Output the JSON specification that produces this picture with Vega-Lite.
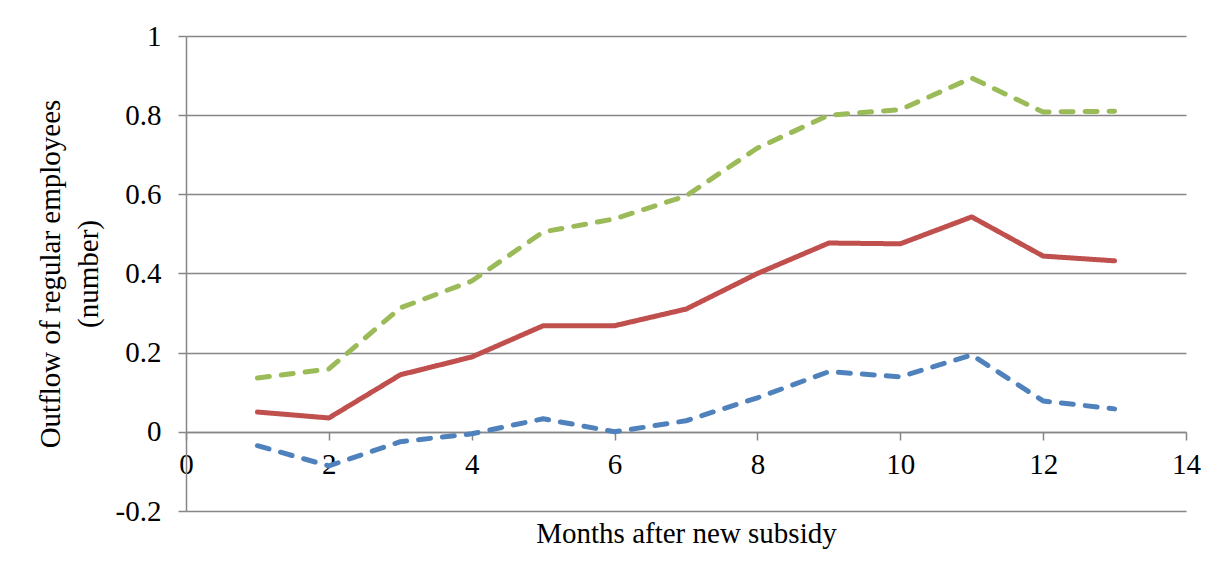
{
  "$schema": "https://vega.github.io/schema/vega-lite/v6.json",
  "width": 1000,
  "height": 475,
  "autosize": {"type": "none"},
  "padding": {"left": 186, "top": 36, "right": 37, "bottom": 68},
  "background": "white",
  "config": {
    "view": {"stroke": null},
    "font": "Liberation Serif",
    "axis": {"labelFont": "Liberation Serif", "titleFont": "Liberation Serif", "labelColor": "black", "titleColor": "black", "titleFontWeight": "normal", "labelFlush": false}
  },
  "data": {
    "values": [
      {"month": 1, "series": "upper", "value": 0.136},
      {"month": 2, "series": "upper", "value": 0.159},
      {"month": 3, "series": "upper", "value": 0.313},
      {"month": 4, "series": "upper", "value": 0.381},
      {"month": 5, "series": "upper", "value": 0.505},
      {"month": 6, "series": "upper", "value": 0.538},
      {"month": 7, "series": "upper", "value": 0.596},
      {"month": 8, "series": "upper", "value": 0.717},
      {"month": 9, "series": "upper", "value": 0.800},
      {"month": 10, "series": "upper", "value": 0.814},
      {"month": 11, "series": "upper", "value": 0.894},
      {"month": 12, "series": "upper", "value": 0.808},
      {"month": 13, "series": "upper", "value": 0.810},
      {"month": 1, "series": "estimate", "value": 0.050},
      {"month": 2, "series": "estimate", "value": 0.035},
      {"month": 3, "series": "estimate", "value": 0.144},
      {"month": 4, "series": "estimate", "value": 0.189},
      {"month": 5, "series": "estimate", "value": 0.268},
      {"month": 6, "series": "estimate", "value": 0.268},
      {"month": 7, "series": "estimate", "value": 0.310},
      {"month": 8, "series": "estimate", "value": 0.400},
      {"month": 9, "series": "estimate", "value": 0.477},
      {"month": 10, "series": "estimate", "value": 0.475},
      {"month": 11, "series": "estimate", "value": 0.543},
      {"month": 12, "series": "estimate", "value": 0.444},
      {"month": 13, "series": "estimate", "value": 0.432},
      {"month": 1, "series": "lower", "value": -0.035},
      {"month": 2, "series": "lower", "value": -0.086},
      {"month": 3, "series": "lower", "value": -0.025},
      {"month": 4, "series": "lower", "value": -0.005},
      {"month": 5, "series": "lower", "value": 0.033},
      {"month": 6, "series": "lower", "value": 0.000},
      {"month": 7, "series": "lower", "value": 0.028},
      {"month": 8, "series": "lower", "value": 0.086},
      {"month": 9, "series": "lower", "value": 0.152},
      {"month": 10, "series": "lower", "value": 0.139},
      {"month": 11, "series": "lower", "value": 0.194},
      {"month": 12, "series": "lower", "value": 0.078},
      {"month": 13, "series": "lower", "value": 0.058}
    ]
  },
  "mark": {"type": "line", "strokeWidth": 5, "strokeCap": "round", "strokeJoin": "round"},
  "encoding": {
    "x": {
      "field": "month", "type": "quantitative",
      "scale": {"domain": [0, 14], "nice": false, "zero": false},
      "axis": {
        "values": [0, 2, 4, 6, 8, 10, 12, 14],
        "offset": -79,
        "grid": false,
        "domainColor": "#868686", "domainWidth": 1.5,
        "tickColor": "#868686", "tickWidth": 1.5, "tickSize": 8,
        "labelFontSize": 29, "labelPadding": 10,
        "title": "Months after new subsidy",
        "titleFontSize": 29, "titlePadding": 40
      }
    },
    "y": {
      "field": "value", "type": "quantitative",
      "scale": {"domain": [-0.2, 1], "nice": false, "zero": false},
      "axis": {
        "values": [-0.2, 0, 0.2, 0.4, 0.6, 0.8, 1],
        "labelExpr": "toString(round(datum.value*10)/10)",
        "grid": true, "gridColor": "#868686", "gridWidth": 1.5,
        "domainColor": "#868686", "domainWidth": 1.5,
        "tickColor": "#868686", "tickWidth": 1.5, "tickSize": 8,
        "labelFontSize": 29, "labelPadding": 17,
        "title": ["Outflow of regular employees", "(number)"],
        "titleFontSize": 29, "titleLineHeight": 38, "titlePadding": 12
      }
    },
    "color": {
      "field": "series", "type": "nominal",
      "scale": {"domain": ["upper", "estimate", "lower"], "range": ["#9BBB59", "#C0504D", "#4F81BD"]},
      "legend": null
    },
    "strokeDash": {
      "field": "series", "type": "nominal",
      "scale": {"domain": ["upper", "estimate", "lower"], "range": [[12, 12], [1, 0], [12, 12]]},
      "legend": null
    },
    "order": {"field": "month"}
  }
}
